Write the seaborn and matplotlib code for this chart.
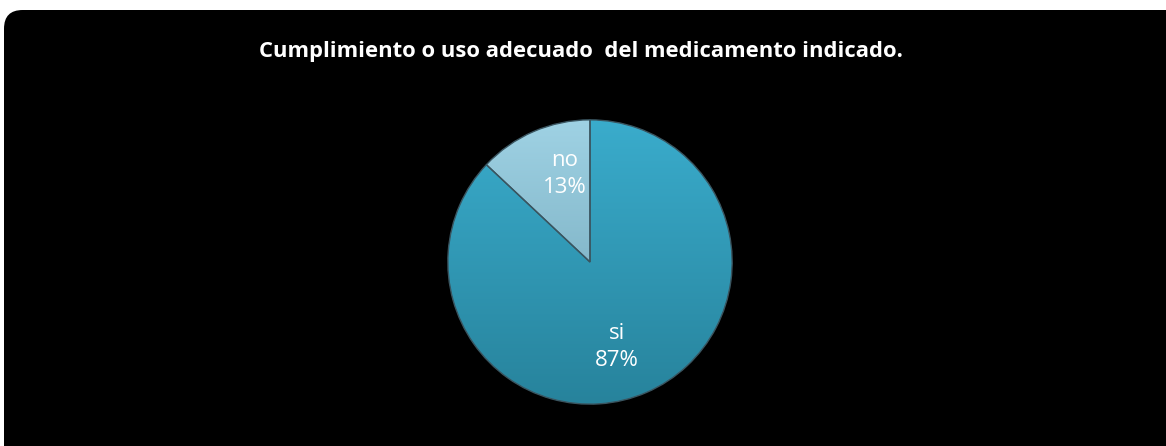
import numpy as np
import matplotlib
matplotlib.use("Agg")
import matplotlib.pyplot as plt
import seaborn as sns
from matplotlib.patches import FancyBboxPatch
from matplotlib.colors import LinearSegmentedColormap

sns.set_theme(style="white")
plt.rcParams['font.family'] = ['Open Sans', 'DejaVu Sans']

# Data
categories = ["si", "no"]
values = [87, 13]
title = "Cumplimiento o uso adecuado  del medicamento indicado."

top_colors = ["#3aaccc", "#9fd2e4"]
bot_colors = ["#27839c", "#6a9fb2"]

W, H = 1166, 446
fig = plt.figure(figsize=(W / 100, H / 100), dpi=100, facecolor="white")

# Black rounded background
bg = FancyBboxPatch((4 / W, -20 / H), (W + 30) / W, (H - 10 + 20) / H,
                    boxstyle="round,pad=0,rounding_size=0.016",
                    transform=fig.transFigure, facecolor="black",
                    edgecolor="none", mutation_aspect=W / H, zorder=-10)
fig.patches.append(bg)

fig.text(581 / W, 1 - 52 / H, title, color="white", fontsize=15.8,
         fontweight="bold", ha="center", va="center")

cx, cy, r = 590, 262, 143
ax = fig.add_axes([(cx - r) / W, 1 - (cy + r) / H, 2 * r / W, 2 * r / H])
ax.set_facecolor("none")
ax.axis("off")

wedges, texts = ax.pie(values, startangle=90, counterclock=False,
                       colors=top_colors, radius=1.0,
                       wedgeprops=dict(edgecolor="#3a5560", linewidth=1.0))

# vertical gradient fill clipped to each wedge
grad = np.linspace(1, 0, 256).reshape(-1, 1)
for w, tc, bc in zip(wedges, top_colors, bot_colors):
    cmap = LinearSegmentedColormap.from_list("g", [bc, tc])
    im = ax.imshow(grad, extent=[-1, 1, -1, 1], cmap=cmap, aspect="auto",
                   zorder=1, origin="upper")
    im.set_clip_path(w)
    w.set_facecolor("none")
    w.set_zorder(2)
ax.set_xlim(-1.006, 1.006)
ax.set_ylim(-1.006, 1.006)

# labels
label_pos = {"no": (-0.176, 0.62), "si": (0.19, -0.60)}
for cat, v in zip(categories, values):
    x, y = label_pos[cat]
    ax.text(x, y, f"{cat}\n{v}%", color="white", fontsize=16,
            ha="center", va="center", linespacing=1.4, zorder=5)

fig.savefig("out.png", dpi=100, facecolor="white")
